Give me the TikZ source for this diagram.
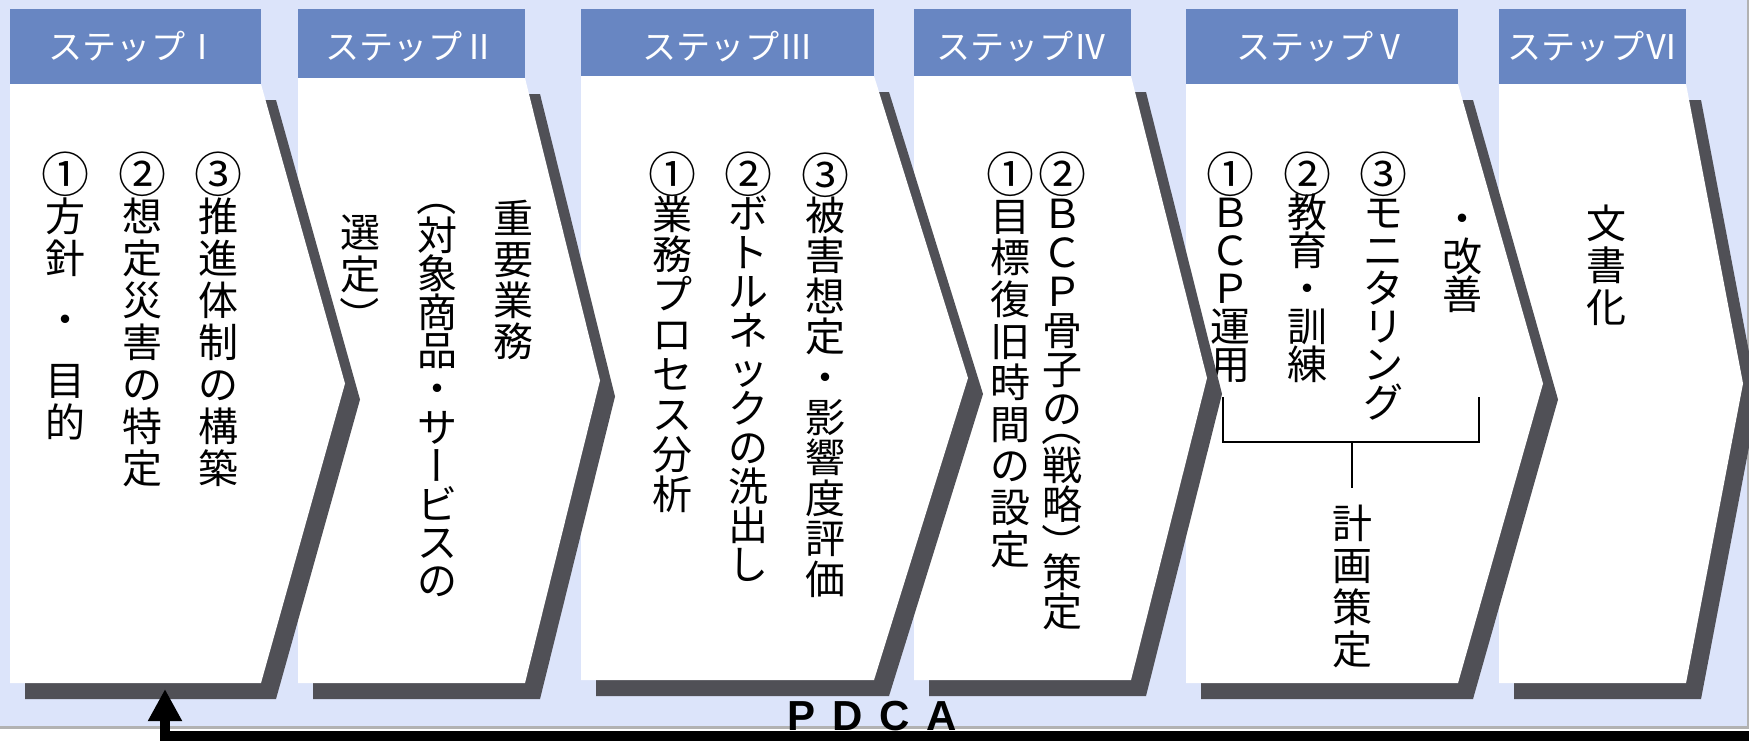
\documentclass[tikz,border=0pt]{standalone}
\usepackage{fontspec}
\usepackage{graphicx}
\setmainfont{Noto Sans CJK JP}
\newfontfamily\tatefont{Noto Sans CJK JP}
\newfontfamily\pdcafont{Liberation Sans}
\usetikzlibrary{arrows.meta}

\definecolor{bgblue}{RGB}{220,228,250}
\definecolor{hdrblue}{RGB}{104,134,194}
\definecolor{shadowgray}{RGB}{80,80,86}

%% vertical (tate) column of characters
\makeatletter
\newlength\tpitch
\def\tsp{}
\newcommand\cnum[1]{\makebox[1em]{\raisebox{-0.076em}{\scalebox{1.2}{#1}}}}
\newcommand\vturn[1]{\raisebox{0.38em}{\rotatebox[origin=c]{-90}{\raisebox{-0.38em}[0.5em][0.5em]{#1}}}}
\def\tglyph#1{%
  \ifx#1①\cnum{①}\else
  \ifx#1②\cnum{②}\else
  \ifx#1③\cnum{③}\else
  \ifx#1ー\vturn{ー}\else
  \ifx#1（\vturn{（}\else
  \ifx#1）\vturn{）}\else
  #1\fi\fi\fi\fi\fi\fi}
\newcommand\tate[2][1em]{%
  \vbox{\offinterlineskip\setlength\tpitch{#1}%
    \@tfor\tch:=#2\do{%
      \expandafter\ifx\tch\tsp\vskip0.45\tpitch\else
        \expandafter\ifx\tch（\vskip-0.55\tpitch\fi
        \hbox{\vrule height\dimexpr0.5\tpitch+0.38em\relax
          depth\dimexpr0.5\tpitch-0.38em\relax width0pt%
          \hbox to1.2em{\hss\smash{\expandafter\tglyph\tch}\hss}}%
        \expandafter\ifx\tch）\vskip-0.25\tpitch\fi
      \fi}}}
\makeatother

%% chevron body: left, right, tip, top, bottom
\newcommand\chev[5]{(#1,#4) -- (#2,#4) -- (#3,{(#4+#5)/2}) -- (#2,#5) -- (#1,#5) -- cycle}

\tikzset{
  hdr/.style={fill=hdrblue},
  hdrtext/.style={text=white, inner sep=0pt, font=\fontsize{9.7}{9.7}\selectfont},
  col/.style={anchor=north, inner sep=0pt, font=\tatefont\fontsize{11.38}{11.38}\selectfont},
  bodyfill/.style={fill=white},
  shadowfill/.style={fill=shadowgray, shift={(15,16)}},
  bracket/.style={line width=0.2mm},
  pdcaline/.style={line width=1mm, line join=miter, -{Triangle[length=3.2mm,width=3.2mm]}},
}

\begin{document}
\begin{tikzpicture}[x=0.1mm, y=-0.1mm]
    \useasboundingbox (0,0) rectangle (1749,740);
    \clip (0,0) rectangle (1749,740);
    %% Background
    \filldraw[fill=bgblue, draw=gray!60, line width=0.3mm] (-20,-20) rectangle (1748,727);

    %% Step VI
    \fill[shadowfill] \chev{1499}{1686}{1743}{84}{683};
    \fill[bodyfill] \chev{1499}{1686}{1743}{84}{683};
    \fill[hdr] (1499,9) rectangle (1686,84);
    \node[hdrtext] (hdrVI) at (1593,47) {ステップⅥ};
    \node[col] (txtVI) at (1606,202) {\tate[1.05em]{文書化}};

    %% Step V
    \fill[shadowfill] \chev{1186}{1458}{1543}{84}{683};
    \fill[bodyfill] \chev{1186}{1458}{1543}{84}{683};
    \fill[hdr] (1186,9) rectangle (1458,84);
    \node[hdrtext] (hdrV) at (1322,47) {ステップⅤ};
    \node[col] (txtVa) at (1230,155) {\tate[0.95em]{①ＢＣＰ運用}};
    \node[col] (txtVb) at (1307,155) {\tate[0.95em]{②教育・訓練}};
    \node[col] (txtVc) at (1383,155) {\tate[0.95em]{③モニタリング}};
    \node[col] (txtVd) at (1462,199) {\tate[0.95em]{・改善}};
    \coordinate (brLt) at (1223,397);
    \coordinate (brLb) at (1223,442);
    \coordinate (brRt) at (1479,397);
    \coordinate (brRb) at (1479,442);
    \coordinate (brMid) at (1352,442);
    \coordinate (brEnd) at (1352,488);
    \draw[bracket] (brLt) -- (brLb) -- (brRb) -- (brRt);
    \draw[bracket] (brMid) -- (brEnd);
    \node[col] (txtPlan) at (1352,502) {\tate[1.05em]{計画策定}};

    %% Step IV
    \fill[shadowfill] \chev{914}{1131}{1207}{76}{680};
    \fill[bodyfill] \chev{914}{1131}{1207}{76}{680};
    \fill[hdr] (914,9) rectangle (1131,76);
    \node[hdrtext] (hdrIV) at (1022,47) {ステップⅣ};
    \node[col] (txtIVa) at (1010,153) {\tate[1.04em]{①目標復旧時間の設定}};
    \node[col] (txtIVb) at (1062,154.5) {\tate[0.975em]{②ＢＣＰ骨子の（戦略）策定}};

    %% Step III
    \fill[shadowfill] \chev{581}{874}{968}{76}{680};
    \fill[bodyfill] \chev{581}{874}{968}{76}{680};
    \fill[hdr] (581,9) rectangle (874,76);
    \node[hdrtext] (hdrIII) at (728,47) {ステップⅢ};
    \node[col] (txtIIIa) at (672,154) {\tate[1.0em]{①業務プロセス分析}};
    \node[col] (txtIIIb) at (748,154.5) {\tate[0.975em]{②ボトルネックの洗出し}};
    \node[col] (txtIIIc) at (825,154) {\tate[1.01em]{③被害想定・影響度評価}};

    %% Step II
    \fill[shadowfill] \chev{298}{525}{600}{78}{683};
    \fill[bodyfill] \chev{298}{525}{600}{78}{683};
    \fill[hdr] (298,9) rectangle (525,78);
    \node[hdrtext] (hdrII) at (411,47) {ステップⅡ};
    \node[col] (txtIIa) at (360,211) {\tate[1.05em]{選定）}};
    \node[col] (txtIIb) at (437,198) {\tate[0.96em]{（対象商品・サービスの}};
    \node[col] (txtIIc) at (513,197.5) {\tate[1.025em]{重要業務}};

    %% Step I
    \fill[shadowfill] \chev{10}{261}{345}{84}{683};
    \fill[bodyfill] \chev{10}{261}{345}{84}{683};
    \fill[hdr] (10,9) rectangle (261,84);
    \node[hdrtext] (hdrI) at (134,47) {ステップⅠ};
    \node[col] (txtIa) at (65,153) {\tate[1.05em]{①方針\tsp ・\tsp 目的}};
    \node[col] (txtIb) at (142,153) {\tate[1.05em]{②想定災害の特定}};
    \node[col] (txtIc) at (218,153) {\tate[1.05em]{③推進体制の構築}};

    %% PDCA loop
    \node[anchor=base, inner sep=0pt, font=\pdcafont\bfseries\fontsize{11.95}{11.95}\selectfont] (pdca) at (872,730) {\spaceskip=0.4em P D C A};
    \coordinate (loopA) at (1760,736);
    \coordinate (loopB) at (165,736);
    \coordinate (loopTip) at (165,689);
    \draw[pdcaline] (loopA) -- (loopB) -- (loopTip);
\end{tikzpicture}
\end{document}
